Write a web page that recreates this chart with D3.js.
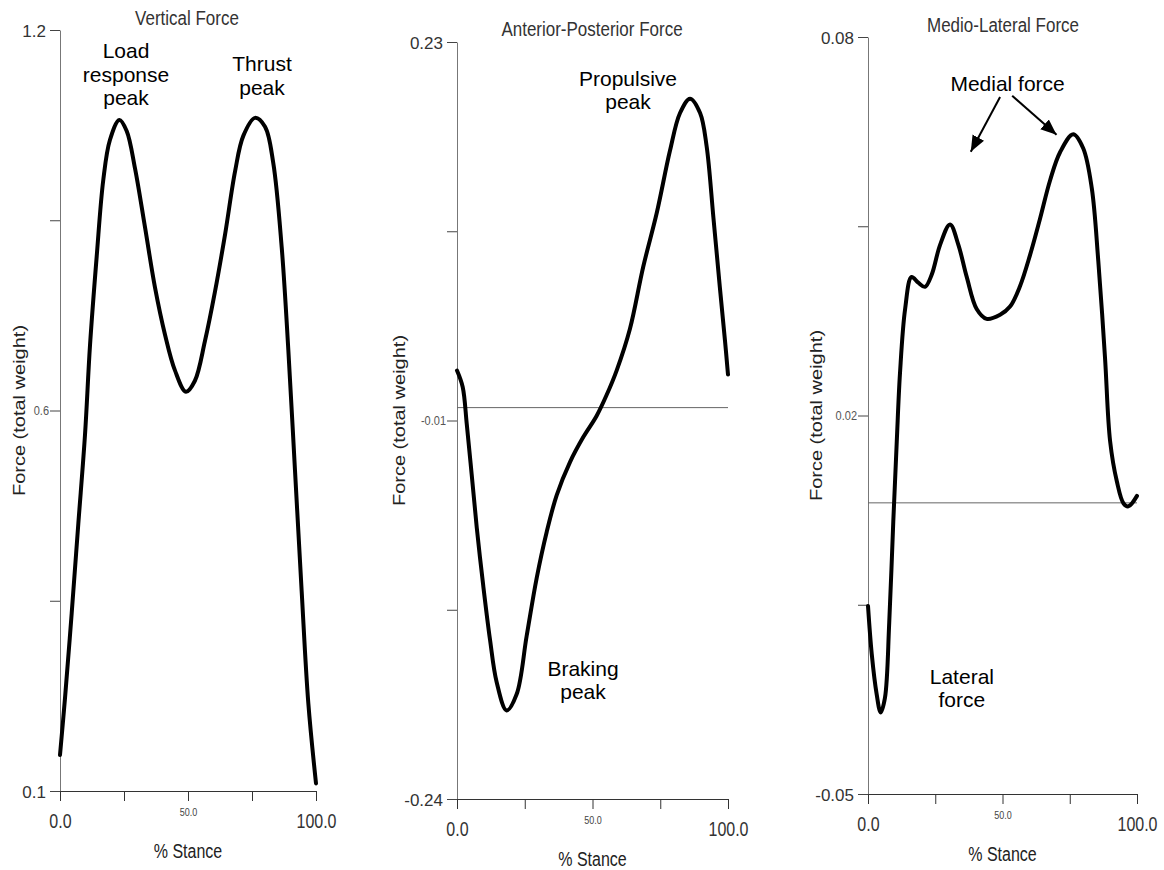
<!DOCTYPE html>
<html>
<head>
<meta charset="utf-8">
<script src="https://cdn.jsdelivr.net/npm/d3@7"></script>
<style>
  body { margin: 0; background: #fff; }
  svg { display: block; font-family: "Liberation Sans", Arial, sans-serif; }
</style>
</head>
<body>
<div id="chart"></div>
<script>
// x axis (% stance), shared by the three panels
var stanceTicks = [0, 25, 50, 75, 100];
var stanceTickLabels = ["0.0", "", "50.0", "", "100.0"];

// vertical force (x body weight)
var vertStance = [0, 1.95, 4.57, 7.15, 9.77, 11.72, 14.34, 16.9, 19.5, 23.2, 26.05, 29.3, 33.2, 37.1, 41.0, 44.9,
  49.2, 52.7, 56.6, 60.5, 64.5, 68.4, 71.6, 76.2, 80.1, 83.3, 86.6, 89.2, 91.8, 94.4, 97.0, 100];
var vertForce = [0.152, 0.234, 0.357, 0.486, 0.615, 0.744, 0.873, 0.983, 1.041, 1.070, 1.054, 1.000, 0.915, 0.828, 0.760, 0.708,
  0.677, 0.693, 0.750, 0.821, 0.905, 0.996, 1.047, 1.073, 1.060, 1.008, 0.886, 0.737, 0.563, 0.389, 0.227, 0.111];
var vertDomain = [0.1, 1.2];
var vertTickLabels = ["0.1", "", "0.6", "", "1.2"];

// anterior-posterior force
var apStance = [0, 2.1, 3.6, 5.4, 7.3, 9.7, 12.2, 14.6, 18.3, 22.0, 25.7, 29.4, 33.1, 36.8, 41.7, 46.6,
  51.5, 55.2, 58.9, 63.8, 68.7, 73.7, 78.6, 82.3, 86.0, 89.7, 92.1, 94.6, 97.0, 98.9, 100];
var apForce = [0.026, 0.0158, -0.0072, -0.0382, -0.0717, -0.1078, -0.1413, -0.1672, -0.185, -0.175, -0.1388, -0.1028, -0.0742, -0.0513, -0.0308, -0.0153,
  -0.0022, 0.0108, 0.026, 0.0518, 0.0903, 0.1238, 0.1626, 0.1859, 0.1948, 0.1859, 0.1654, 0.1213, 0.0776, 0.0444, 0.0235];
var apDomain = [-0.24, 0.23];
var apTickLabels = ["-0.24", "", "-0.01", "", "0.23"];
var apBaseline = 0.003;

// medio-lateral force
var mlStance = [0, 1.4, 3.2, 4.7, 6.3, 7.9, 9.4, 10.7, 11.9, 13.8, 16.2, 18.7, 21.2, 23.7, 26.8, 30.5, 33.6, 36.7,
  40.4, 44.1, 49.1, 52.8, 56.5, 60.2, 63.9, 67.7, 71.4, 76.3, 80.0, 83.2, 85.6, 88.1, 90.0, 92.5, 95.0, 96.8, 100];
var mlForce = [-0.0177, -0.026, -0.0328, -0.036, -0.0335, -0.0205, -0.0032, 0.0106, 0.0223, 0.0333, 0.0388, 0.0378, 0.0371, 0.0392, 0.0443, 0.0478, 0.0443, 0.0388,
  0.0333, 0.0316, 0.0323, 0.0337, 0.0372, 0.0425, 0.0487, 0.0554, 0.0602, 0.0633, 0.0609, 0.054, 0.0416, 0.025, 0.0106, 0.0037, -0.0001, -0.0006, 0.0012];
var mlDomain = [-0.05, 0.08];
var mlTickLabels = ["-0.05", "", "0.02", "", "0.08"];
var mlBaseline = 0;

// annotations, placed in data units
var vertNotes = [
  {lines: ["Load", "response", "peak"], at: [25.8, 1.1595]},
  {lines: ["Thrust", "peak"], at: [78.9, 1.1407]}
];
var apNotes = [
  {lines: ["Propulsive", "peak"], at: [63.1, 0.2027]},
  {lines: ["Braking", "peak"], at: [46.5, -0.1636]}
];
var mlNotes = [
  {lines: ["Medial force"], at: [51.9, 0.0707]},
  {lines: ["Lateral", "force"], at: [34.9, -0.0311]}
];
var mlArrows = [
  {from: [49.1, 0.0697], to: [38.2, 0.0603]},
  {from: [53.6, 0.0699], to: [70.1, 0.0632]}
];

var width = 1164, height = 870;

var panels = [
  {title: "Vertical Force", stance: vertStance, force: vertForce, domain: vertDomain, yLabels: vertTickLabels,
   baseline: null, notes: vertNotes, arrows: [],
   box: {x0: 60, x1: 316, y0: 30, y1: 791}, titleAt: [187, 25], yTitleX: 25},
  {title: "Anterior-Posterior Force", stance: apStance, force: apForce, domain: apDomain, yLabels: apTickLabels,
   baseline: apBaseline, notes: apNotes, arrows: [],
   box: {x0: 457, x1: 728, y0: 42, y1: 799}, titleAt: [592, 36], yTitleX: 405},
  {title: "Medio-Lateral Force", stance: mlStance, force: mlForce, domain: mlDomain, yLabels: mlTickLabels,
   baseline: mlBaseline, notes: mlNotes, arrows: mlArrows,
   box: {x0: 868, x1: 1137, y0: 37, y1: 794}, titleAt: [1003, 32], yTitleX: 822}
];

var svg = d3.select("#chart")
  .append("svg")
  .attr("width", width)
  .attr("height", height);

svg.append("defs").append("marker")
  .attr("id", "head")
  .attr("markerUnits", "userSpaceOnUse")
  .attr("viewBox", "-16 -7 17 14")
  .attr("refX", 0)
  .attr("refY", 0)
  .attr("markerWidth", 17)
  .attr("markerHeight", 14)
  .attr("orient", "auto")
  .append("path")
  .attr("d", "M-16,-6.5L0,0L-16,6.5Z")
  .attr("fill", "#000");

function drawPanel(p) {
  var b = p.box;
  var x = d3.scaleLinear().domain([0, 100]).range([b.x0, b.x1]);
  var y = d3.scaleLinear().domain(p.domain).range([b.y1, b.y0]);
  var yTicks = d3.range(5).map(function (i) {
    return p.domain[0] + i * (p.domain[1] - p.domain[0]) / 4;
  });

  // y axis
  var gy = svg.append("g")
    .attr("transform", "translate(" + b.x0 + ",0)")
    .attr("font-family", null)
    .call(d3.axisLeft(y).tickValues(yTicks).tickSize(10).tickSizeOuter(0)
      .tickFormat(function (d, i) { return p.yLabels[i]; }));
  gy.select(".domain").attr("stroke", "#777");
  gy.selectAll(".tick line").attr("stroke", "#444");
  gy.selectAll(".tick text").each(function (d, i) {
    var big = (i === 0 || i === 4);
    d3.select(this)
      .attr("x", 0).attr("dy", null)
      .attr("font-size", big ? 17 : 11)
      .attr("fill", big ? "#333" : "#555")
      .attr("transform", big ? "translate(-14,6)" : "translate(-11,4) scale(1,1.15)");
  });

  // x axis
  var gx = svg.append("g")
    .attr("transform", "translate(0," + b.y1 + ")")
    .attr("font-family", null)
    .call(d3.axisBottom(x).tickValues(stanceTicks).tickSize(10).tickSizeOuter(0)
      .tickFormat(function (d, i) { return stanceTickLabels[i]; }));
  gx.select(".domain").attr("stroke", "#333");
  gx.selectAll(".tick line").attr("stroke", "#333");
  gx.selectAll(".tick text").each(function (d, i) {
    var big = stanceTickLabels[i].length > 0 && i !== 2;
    d3.select(this)
      .attr("y", 0).attr("dy", null)
      .attr("font-size", big ? 16 : 9)
      .attr("fill", big ? "#333" : "#444")
      .attr("transform", big ? "translate(0,37) scale(1,1.25)" : "translate(0,25) scale(1,1.25)");
  });

  // titles
  svg.append("text")
    .attr("transform", "translate(" + p.titleAt[0] + "," + p.titleAt[1] + ") scale(1,1.15)")
    .attr("text-anchor", "middle")
    .attr("font-size", 17)
    .attr("fill", "#333")
    .text(p.title);

  svg.append("text")
    .attr("transform", "translate(" + ((b.x0 + b.x1) / 2) + "," + (b.y1 + 67) + ") scale(1,1.25)")
    .attr("text-anchor", "middle")
    .attr("font-size", 16)
    .attr("fill", "#222")
    .text("% Stance");

  svg.append("text")
    .attr("transform", "translate(" + p.yTitleX + "," + ((b.y0 + b.y1) / 2) + ") rotate(-90) scale(1.25,1)")
    .attr("text-anchor", "middle")
    .attr("font-size", 16)
    .attr("fill", "#222")
    .text("Force (total weight)");

  // zero line
  if (p.baseline !== null) {
    svg.append("line")
      .attr("x1", x(0)).attr("x2", x(100))
      .attr("y1", y(p.baseline)).attr("y2", y(p.baseline))
      .attr("stroke", "#666")
      .attr("stroke-width", 1);
  }

  // force curve
  var line = d3.line()
    .x(function (d) { return x(d[0]); })
    .y(function (d) { return y(d[1]); })
    .curve(d3.curveCatmullRom.alpha(0.5));

  svg.append("path")
    .datum(d3.zip(p.stance, p.force))
    .attr("d", line)
    .attr("fill", "none")
    .attr("stroke", "#000")
    .attr("stroke-width", 4)
    .attr("stroke-linejoin", "round")
    .attr("stroke-linecap", "round");

  // annotations
  p.notes.forEach(function (n) {
    var t = svg.append("text")
      .attr("text-anchor", "middle")
      .attr("font-size", 21)
      .attr("fill", "#000");
    n.lines.forEach(function (s, i) {
      t.append("tspan")
        .attr("x", x(n.at[0]))
        .attr("y", y(n.at[1]) + i * 23.5)
        .text(s);
    });
  });

  p.arrows.forEach(function (a) {
    svg.append("line")
      .attr("x1", x(a.from[0])).attr("y1", y(a.from[1]))
      .attr("x2", x(a.to[0])).attr("y2", y(a.to[1]))
      .attr("stroke", "#000")
      .attr("stroke-width", 2)
      .attr("marker-end", "url(#head)");
  });
}

panels.forEach(drawPanel);
</script>
</body>
</html>
